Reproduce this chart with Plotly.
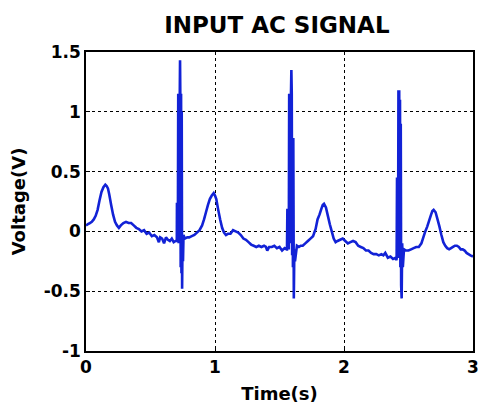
import plotly.graph_objects as go

# Time (s) and voltage (V)
time_s = [
    0.000, 0.015, 0.030, 0.045, 0.060, 0.075, 0.090, 0.105, 0.120, 0.135, 0.150, 0.160, 0.170, 0.180,
    0.195, 0.210, 0.225, 0.240, 0.255, 0.270, 0.290, 0.310, 0.330, 0.350, 0.370, 0.390, 0.410,
    0.430, 0.450, 0.470, 0.490, 0.510, 0.530, 0.550, 0.565, 0.575, 0.590, 0.605, 0.620, 0.635,
    0.650, 0.665, 0.680, 0.695,
    0.700, 0.704, 0.705, 0.707, 0.712, 0.715, 0.718, 0.721, 0.724, 0.727, 0.729, 0.731, 0.734,
    0.737, 0.740, 0.742, 0.745, 0.748, 0.752, 0.756, 0.765,
    0.785, 0.800, 0.820, 0.840, 0.860, 0.880, 0.900,
    0.915, 0.930, 0.945, 0.960, 0.975, 0.990, 1.000, 1.010, 1.025, 1.040, 1.055, 1.070, 1.085,
    1.100, 1.120, 1.140, 1.160, 1.180, 1.200, 1.220, 1.240, 1.260, 1.280, 1.300, 1.320, 1.340,
    1.360, 1.380, 1.395, 1.405, 1.420, 1.440, 1.460, 1.480, 1.500, 1.520, 1.540,
    1.555, 1.558, 1.561, 1.568, 1.572, 1.575, 1.578, 1.581, 1.585, 1.589, 1.592, 1.595, 1.598,
    1.601, 1.604, 1.607, 1.611, 1.615, 1.620,
    1.635, 1.650, 1.665, 1.680, 1.700, 1.720, 1.740, 1.760, 1.780, 1.795, 1.810, 1.825, 1.835,
    1.845, 1.860, 1.875, 1.890, 1.905, 1.920, 1.935, 1.950, 1.970, 1.990, 2.010, 2.030, 2.050,
    2.070, 2.090, 2.110, 2.130, 2.150, 2.170, 2.190, 2.210, 2.230, 2.250, 2.270, 2.290, 2.305,
    2.320, 2.340, 2.360, 2.380,
    2.400, 2.405, 2.408, 2.411, 2.416, 2.419, 2.422, 2.425, 2.428, 2.431, 2.434, 2.437, 2.440,
    2.443, 2.447, 2.451, 2.456,
    2.465, 2.480, 2.500, 2.520, 2.540, 2.560, 2.580, 2.600,
    2.615, 2.630, 2.645, 2.660, 2.675, 2.685, 2.695, 2.710, 2.725, 2.740, 2.755, 2.770, 2.785,
    2.800, 2.815, 2.830, 2.845, 2.860, 2.875, 2.890, 2.905, 2.920, 2.935, 2.950, 2.965, 2.980,
    3.000,
]
voltage_v = [
    0.05, 0.06, 0.07, 0.08, 0.10, 0.13, 0.18, 0.26, 0.33, 0.37, 0.39, 0.38, 0.36, 0.31,
    0.22, 0.14, 0.08, 0.05, 0.03, 0.05, 0.07, 0.08, 0.07, 0.07, 0.05, 0.03, 0.02,
    0.00, 0.01, -0.02, -0.01, -0.04, -0.03, -0.05, -0.09, -0.05, -0.06, -0.10, -0.05, -0.07,
    -0.08, -0.06, -0.09, -0.08,
    -0.08, -0.07, 0.24, -0.06, -0.05, 1.15, -0.10, 1.15, -0.10, 1.15, 1.43, 1.15, -0.30,
    1.15, -0.35, 1.00, -0.48, -0.10, -0.25, -0.03, -0.06,
    -0.05, -0.05, -0.04, -0.03, -0.01, 0.01, 0.05,
    0.10, 0.16, 0.22, 0.27, 0.30, 0.32, 0.30, 0.27, 0.18, 0.10, 0.03, -0.01, -0.03,
    -0.02, -0.02, 0.01, 0.00, -0.01, -0.03, -0.06, -0.07, -0.09, -0.11, -0.12, -0.13, -0.12,
    -0.13, -0.12, -0.13, -0.16, -0.13, -0.13, -0.12, -0.14, -0.13, -0.16, -0.14, -0.15,
    -0.15, 0.19, -0.14, -0.14, 1.15, -0.10, 1.15, -0.10, 1.15, 1.35, 1.15, -0.20, 0.78,
    -0.30, 0.78, -0.56, -0.15, -0.25, -0.12,
    -0.13, -0.12, -0.12, -0.10, -0.08, -0.06, -0.04, 0.02, 0.10, 0.14, 0.19, 0.22, 0.23,
    0.20, 0.13, 0.06, 0.00, -0.06, -0.09, -0.08, -0.07, -0.06, -0.08, -0.10, -0.09, -0.08,
    -0.09, -0.12, -0.13, -0.14, -0.16, -0.16, -0.18, -0.19, -0.19, -0.20, -0.19, -0.20, -0.18,
    -0.22, -0.21, -0.23, -0.22,
    -0.24, -0.23, 0.45, -0.22, -0.20, 1.18, -0.20, 1.18, -0.20, 1.10, -0.30, 0.90, -0.45,
    -0.56, -0.10, -0.30, -0.15,
    -0.16, -0.16, -0.15, -0.14, -0.13, -0.13, -0.10, -0.05,
    0.00, 0.04, 0.09, 0.14, 0.17, 0.18, 0.16, 0.10, 0.04, -0.03, -0.09, -0.12, -0.14,
    -0.15, -0.14, -0.13, -0.12, -0.12, -0.13, -0.15, -0.15, -0.16, -0.18, -0.19, -0.20, -0.21,
    -0.22,
]

x_ticks = [0, 1, 2, 3]
y_ticks = [-1, -0.5, 0, 0.5, 1, 1.5]
y_tick_labels = ["-1", "-0.5", "0", "0.5", "1", "1.5"]

FONT = "DejaVu Sans, Liberation Sans, Arial, sans-serif"

fig = go.Figure()
fig.add_trace(go.Scatter(
    x=time_s, y=voltage_v, mode="lines",
    line=dict(color="#1222d6", width=2.6, simplify=False),
    showlegend=False,
))

axis_common = dict(
    showline=True, linecolor="black", linewidth=1.5, mirror=True,
    showgrid=True, gridcolor="black", gridwidth=1, griddash="3px,3px",
    zeroline=False, ticks="inside", ticklen=4, tickcolor="black",
    automargin=False,
    tickfont=dict(family=FONT, size=17, color="black", weight="bold"),
)

fig.update_layout(
    width=479, height=409,
    margin=dict(l=86, r=6, t=52, b=58),
    paper_bgcolor="white", plot_bgcolor="white",
    title=dict(text="<b>INPUT AC SIGNAL</b>", x=0.578, xanchor="center", y=0.938, yanchor="middle",
               font=dict(family=FONT, size=23, color="black")),
    xaxis=dict(range=[0, 3], tickvals=x_ticks, ticktext=[str(v) for v in x_ticks],
               title=dict(text="<b>Time(s)</b>", font=dict(family=FONT, size=18, color="black"), standoff=11),
               **axis_common),
    yaxis=dict(range=[-1, 1.5], tickvals=y_ticks, ticktext=y_tick_labels,
               title=dict(text="<b>Voltage(V)</b>", font=dict(family=FONT, size=18, color="black"), standoff=13),
               **axis_common),
)

fig.write_html("out.html")
